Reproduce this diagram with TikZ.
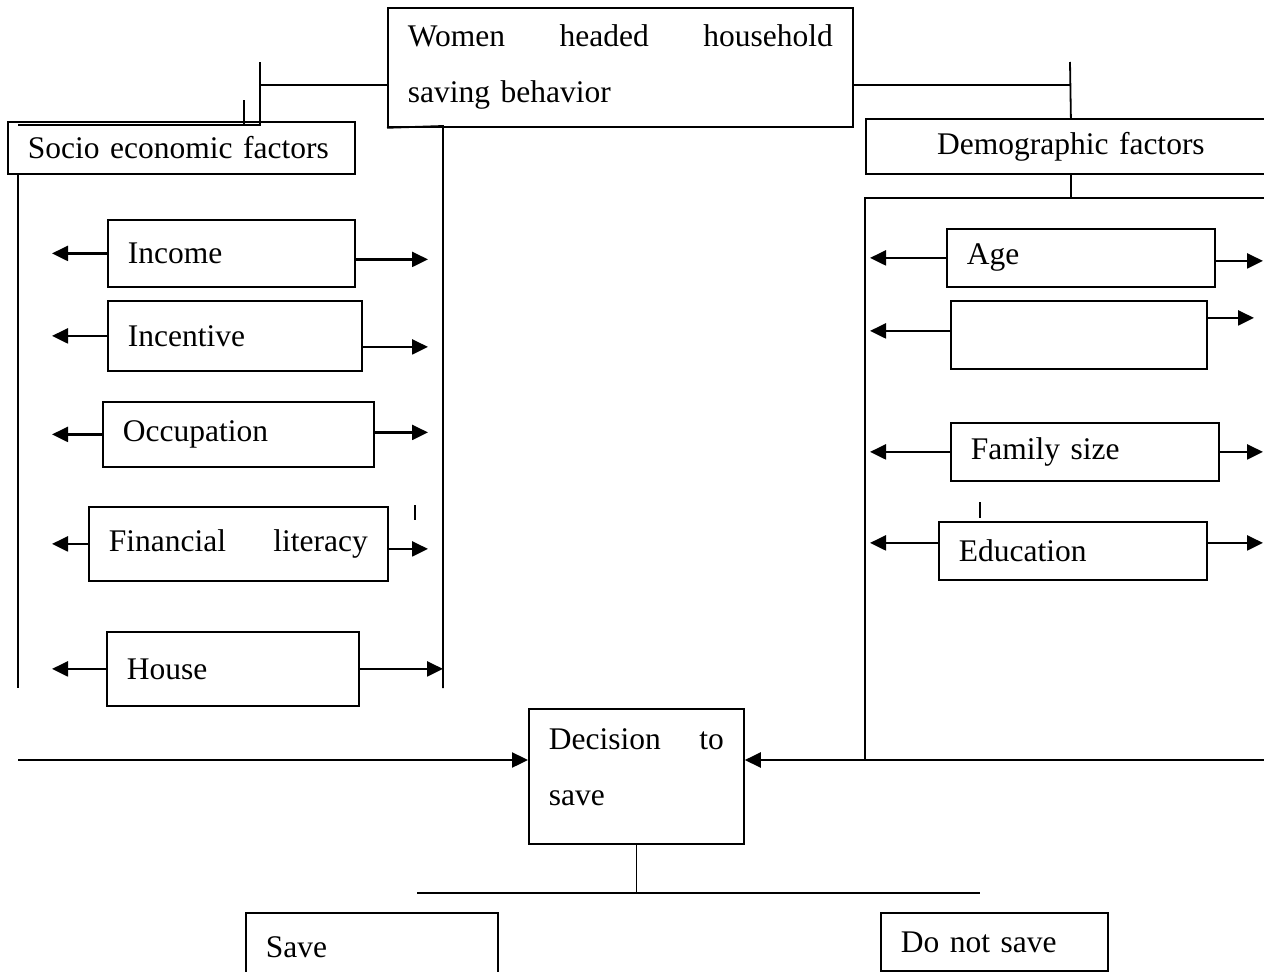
\documentclass[tikz,border=0pt]{standalone}
\usepackage{fontspec}
\setmainfont{Liberation Serif}
\usetikzlibrary{arrows.meta,calc}

\begin{document}
\begin{tikzpicture}[x=1pt,y=-1pt,font=\fontsize{31.5}{56}\selectfont,
  box/.style 2 args={draw,line width=1.8pt,anchor=north west,inner xsep=20pt,inner ysep=0pt,text width=#1,minimum height=#2,align=left},
  frame/.style={line width=1.8pt},
  arr/.style={line width=2.4pt,-{Triangle[length=16pt,width=15pt]}}]
\clip (0,0) rectangle (1264,972);
% top box and the two groups of factors
\node[box={425pt}{119pt}] (wom) at (387,7) {Women\hfill headed\hfill household\\saving behavior};
\node[box={307pt}{52pt}] (soc) at (7,121) {Socio economic factors};
\node[box={370pt}{55pt},align=center] (dem) at (865,118) {Demographic factors};
% socio economic factors
\node[box={207pt}{67pt}] (inc) at (107,219) {Income};
\node[box={214pt}{70pt}] (ince) at (107,300) {Incentive};
\node[box={231pt}{65pt}] (occ) at (102,401) {Occupation};
\node[box={259pt}{74pt}] (fin) at (88,506) {Financial\hfill literacy};
\node[box={212pt}{74pt}] (hou) at (106,631) {House};
% demographic factors
\node[box={228pt}{58pt}] (age) at (946,228) {Age};
\node[box={216pt}{68pt}] (emp) at (950,300) {};
\node[box={228pt}{58pt}] (fam) at (950,422) {Family size};
\node[box={228pt}{58pt}] (edu) at (938,521) {Education};
% outcome
\node[box={175pt}{135pt},text depth=75pt] (dec) at (528,708) {Decision\hfill to\\save};
\node[box={212pt}{68pt}] (sav) at (245,912) {Save};
\node[box={187pt}{58pt}] (nsav) at (880,912) {Do not save};

\coordinate (jl) at (260,85);
\coordinate (lt) at (260,62);
\coordinate (lb) at (260,125);
\coordinate (lfa) at (18,125);
\coordinate (lfb) at (18,688);
\coordinate (lfc) at (443,126);
\coordinate (lfd) at (443,688);
\coordinate (sl) at (52,0);
\coordinate (sr) at (428,0);
\coordinate (jr) at (1070,85);
\coordinate (rt) at (1070,62);
\coordinate (rfa) at (1266,198);
\coordinate (rfb) at (865,198);
\coordinate (rfc) at (865,760);
\coordinate (rfd) at (1266,760);
\coordinate (dl) at (870,0);
\coordinate (dr) at (1263,0);
\coordinate (de) at (1254,0);
\coordinate (lin) at (18,760);
\coordinate (spl) at (417,893);
\coordinate (spr) at (980,893);

% left frame
\draw[frame] (wom.west |- jl) -- (jl);
\draw[frame] (lt) -- (lb) -- (lfa);
\draw[frame] (soc.south -| lfa) -- (lfb);
\draw[frame] (wom.south west) -- (lfc) -- (lfd);
% right frame
\draw[frame] (wom.east |- jr) -- (jr);
\draw[frame] (rt) -- (dem.north);
\draw[frame] (dem.south) -- (dem.south |- rfb);
\draw[frame] (rfa) -- (rfb) -- (rfc);
% stray ticks
\draw[frame,line width=1.4pt] (244,100) -- (244,125);
\draw[frame,line width=1.4pt] (415,505) -- (415,520);
\draw[frame,line width=1.4pt] (980,502) -- (980,518);

\foreach \n in {inc,ince,occ,fin,hou}
  \draw[arr] (\n.west) -- (\n.west -| sl);
\foreach \n/\dy in {inc/6,ince/11,occ/-2,fin/5}
  \draw[arr] ($(\n.east)+(0,\dy)$) -- ($(\n.east -| sr)+(0,\dy)$);
\draw[arr] (hou.east) -- (hou.east -| lfd);
\foreach \n/\dy in {age/0,emp/-4,fam/0,edu/-8}
  \draw[arr] ($(\n.west)+(0,\dy)$) -- ($(\n.west -| dl)+(0,\dy)$);
\foreach \n/\dy in {age/3,fam/0,edu/-8}
  \draw[arr] ($(\n.east)+(0,\dy)$) -- ($(\n.east -| dr)+(0,\dy)$);
\draw[arr] ($(emp.east)+(0,-17)$) -- ($(emp.east -| de)+(0,-17)$);

% into and out of the decision
\draw[arr] (lin) -- (dec.west |- lin);
\draw[arr] (rfd) -- (dec.east |- rfd);
\draw[frame] (dec.south) -- (dec.south |- spl);
\draw[frame] (spl) -- (spr);
\end{tikzpicture}
\end{document}
